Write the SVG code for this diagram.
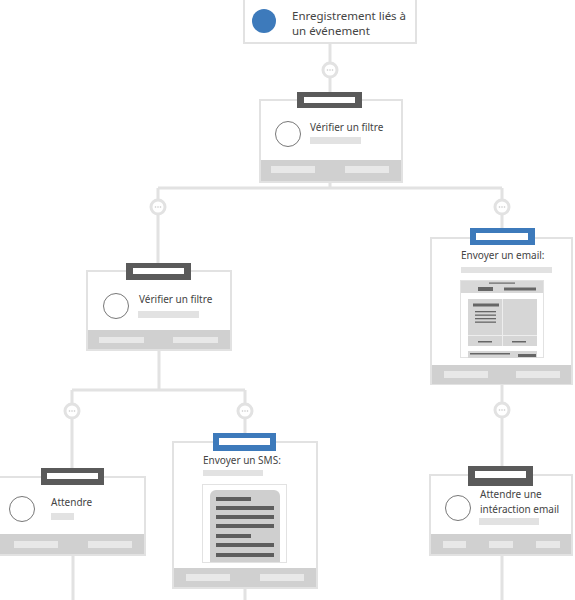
<svg xmlns="http://www.w3.org/2000/svg" width="575" height="600" viewBox="0 0 575 600">
<defs>
<style>
.ln{stroke:#e2e2e2;stroke-width:3;fill:none}
.box{fill:#fff;stroke:#e2e2e2;stroke-width:2}
.foot{fill:#d0d0d0}
.fbar{fill:#e8e8e8}
.ph{fill:#e2e2e2}
.tagd{fill:#5a5a5a}
.tagb{fill:#3d7abb}
.tagi{fill:#fff}
.ic{fill:#fff;stroke:#777;stroke-width:1}
.t{font-family:"Noto Sans","Open Sans",sans-serif;font-size:10px;fill:#444}
.dk{fill:#666}
.dot{fill:#fff;stroke:#e2e2e2;stroke-width:3}
.dd{fill:#c8c8c8}
</style>
<g id="dots">
<circle class="dot" r="7"/>
<circle class="dd" cx="-2.5" r="0.8"/><circle class="dd" r="0.8"/><circle class="dd" cx="2.5" r="0.8"/>
</g>
</defs>
<g id="connectors">
<path class="ln" d="M330 43V100"/>
<path class="ln" d="M330 182V188M158 188H502M158 188V270M502 188V238"/>
<path class="ln" d="M159 350V390M72 390H245M72 390V477M245 390V442"/>
<path class="ln" d="M502 384V475"/>
<path class="ln" d="M73 555V600M245 588V600M502 555V600"/>
<use href="#dots" x="330" y="70"/>
<use href="#dots" x="158" y="207"/>
<use href="#dots" x="502" y="207"/>
<use href="#dots" x="72" y="411"/>
<use href="#dots" x="245" y="411"/>
<use href="#dots" x="502" y="410"/>
</g>
<g id="n-start">
<rect class="box" x="244" y="-2" width="172" height="45"/>
<circle cx="264" cy="21" r="12" fill="#3d7abb"/>
<text class="t" style="font-size:11.5px" x="292" y="20">Enregistrement liés à</text>
<text class="t" style="font-size:11.5px" x="292" y="35">un événement</text>
</g>
<g id="n-filter1">
<rect class="box" x="260" y="100" width="142" height="82"/>
<rect class="foot" x="261" y="160" width="140" height="21"/>
<rect class="fbar" x="271" y="166" width="44" height="7"/>
<rect class="fbar" x="345" y="166" width="44" height="7"/>
<rect class="tagd" x="297" y="92" width="65" height="16"/>
<rect class="tagi" x="304" y="97" width="51" height="6"/>
<circle class="ic" cx="288" cy="134" r="12.5"/>
<text class="t" x="310" y="131">Vérifier un filtre</text>
<rect class="ph" x="310" y="137" width="51" height="7"/>
</g>
<g id="n-filter2">
<rect class="box" x="87" y="271" width="144" height="79"/>
<rect class="foot" x="88" y="330" width="142" height="19"/>
<rect class="fbar" x="99" y="337" width="45" height="6"/>
<rect class="fbar" x="173" y="337" width="45" height="6"/>
<rect class="tagd" x="126" y="263" width="65" height="17"/>
<rect class="tagi" x="133" y="268" width="51" height="6"/>
<circle class="ic" cx="116" cy="306" r="12.5"/>
<text class="t" x="139" y="303">Vérifier un filtre</text>
<rect class="ph" x="138" y="311" width="61" height="7"/>
</g>
<g id="n-email">
<rect class="box" x="431" y="238" width="141" height="146"/>
<rect class="foot" x="432" y="365" width="139" height="19"/>
<rect class="fbar" x="444" y="371" width="44" height="7"/>
<rect class="fbar" x="516" y="371" width="44" height="7"/>
<rect class="tagb" x="470" y="228" width="65" height="17"/>
<rect class="tagi" x="476" y="233" width="52" height="7"/>
<text class="t" x="461" y="259">Envoyer un email:</text>
<rect class="ph" x="461" y="267" width="91" height="6"/>
<rect x="460.5" y="280.5" width="83" height="77" fill="#fff" stroke="#e2e2e2"/>
<rect x="461" y="281" width="82" height="12" fill="#d8d8d8"/>
<rect class="dk" x="489" y="282.5" width="26" height="1.2"/>
<rect class="dk" x="478" y="287" width="15" height="4"/>
<rect class="dk" x="504" y="287.5" width="32" height="3"/>
<rect x="468" y="299" width="69" height="47" fill="#d6d6d6"/>
<rect x="502" y="299" width="1" height="47" fill="#eee"/>
<rect x="468" y="335" width="69" height="1" fill="#eee"/>
<rect class="dk" x="473" y="303.5" width="26" height="3"/>
<rect class="dk" x="475" y="311" width="21" height="1.3"/>
<rect class="dk" x="475" y="314.5" width="21" height="1.3"/>
<rect class="dk" x="475" y="318" width="21" height="1.3"/>
<rect class="dk" x="475" y="321.5" width="21" height="1.3"/>
<rect class="dk" x="478" y="341" width="14" height="1.5"/>
<rect class="dk" x="512" y="341" width="14" height="1.5"/>
<rect x="468" y="351" width="69" height="7" fill="#d6d6d6"/>
<rect class="dk" x="470" y="353" width="40" height="1.5"/>
<rect class="dk" x="518" y="354" width="18" height="3"/>
</g>
<g id="n-wait1">
<rect class="box" x="-2" y="477" width="147" height="78"/>
<rect class="foot" x="0" y="534" width="144" height="20"/>
<rect class="fbar" x="14" y="541" width="44" height="7"/>
<rect class="fbar" x="88" y="541" width="44" height="7"/>
<rect class="tagd" x="41" y="468" width="63" height="17"/>
<rect class="tagi" x="47" y="473" width="51" height="6"/>
<circle class="ic" cx="22" cy="509" r="12.5"/>
<text class="t" x="51" y="506">Attendre</text>
<rect class="ph" x="51" y="513" width="23" height="7"/>
</g>
<g id="n-sms">
<rect class="box" x="173" y="442" width="144" height="146"/>
<rect class="foot" x="174" y="568" width="142" height="19"/>
<rect class="fbar" x="186" y="574" width="44" height="7"/>
<rect class="fbar" x="260" y="574" width="44" height="7"/>
<rect class="tagb" x="213" y="433" width="63" height="18"/>
<rect class="tagi" x="219" y="438" width="51" height="7"/>
<text class="t" x="203" y="464">Envoyer un SMS:</text>
<rect class="ph" x="203" y="470" width="60" height="6"/>
<rect x="202.5" y="484.5" width="84" height="78" fill="#fff" stroke="#e2e2e2"/>
<path d="M210 562V496a6 6 0 0 1 6-6h58a6 6 0 0 1 6 6V562Z" fill="#cfcfcf"/>
<g fill="#5e5e5e">
<rect x="216" y="497" width="35" height="4"/>
<rect x="216" y="506" width="58" height="4"/>
<rect x="216" y="515" width="58" height="4"/>
<rect x="216" y="524" width="58" height="4"/>
<rect x="216" y="534" width="35" height="4"/>
<rect x="216" y="543" width="58" height="4"/>
<rect x="216" y="553" width="58" height="4"/>
</g>
</g>
<g id="n-wait2">
<rect class="box" x="430" y="475" width="142" height="80"/>
<rect class="foot" x="431" y="534" width="140" height="20"/>
<rect class="fbar" x="443" y="541" width="23" height="7"/>
<rect class="fbar" x="489" y="541" width="24" height="7"/>
<rect class="fbar" x="536" y="541" width="24" height="7"/>
<rect class="tagd" x="468" y="466" width="65" height="20"/>
<rect class="tagi" x="475" y="471" width="51" height="7"/>
<circle class="ic" cx="458" cy="508" r="12.5"/>
<text class="t" x="480" y="498">Attendre une</text>
<text class="t" x="480" y="513">intéraction email</text>
<rect class="ph" x="479" y="518" width="60" height="7"/>
</g>
</svg>
